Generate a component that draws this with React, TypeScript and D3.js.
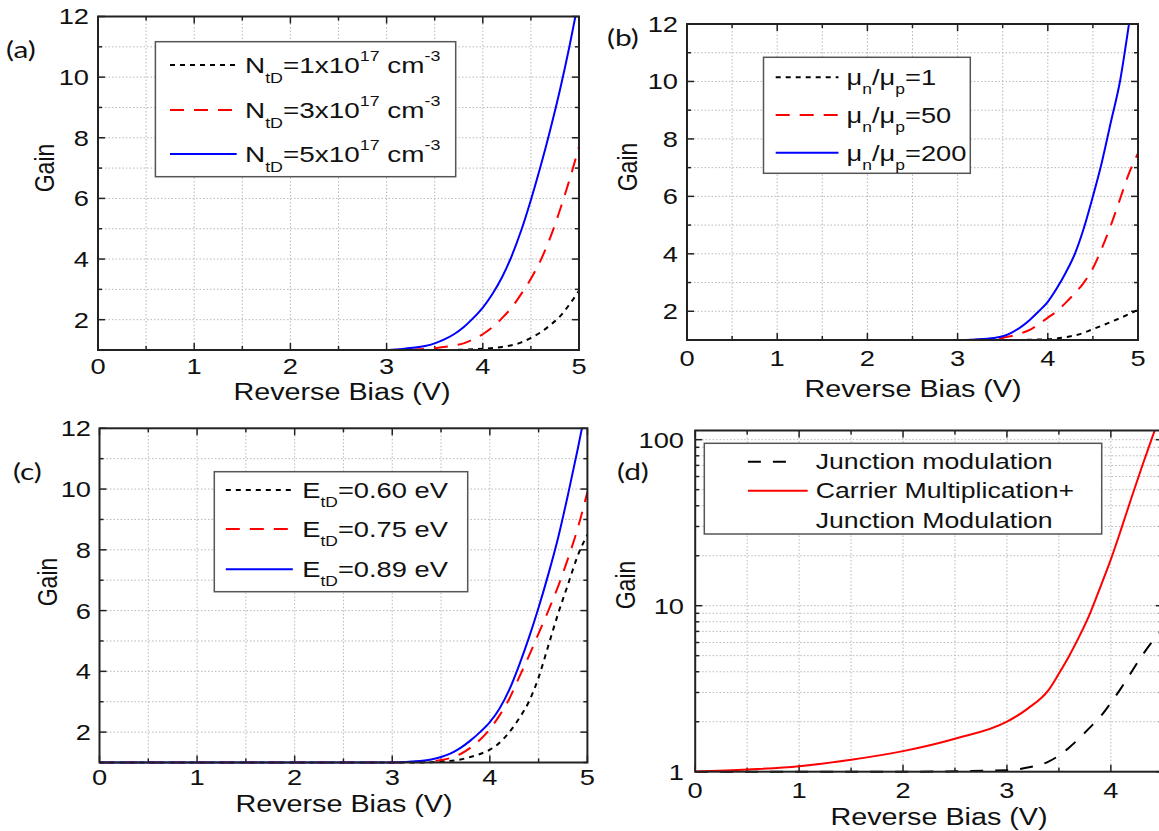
import React from 'react';
import * as d3 from 'd3';

const W = 1159;
const H = 831;
const FONT = '"Liberation Sans", Arial, Helvetica, sans-serif';
const LETTER_FONT = 'Lato, "Open Sans", sans-serif';
const SX = 1.24;

// ---------- Tick labels ----------
const xTickLabels = [0, 1, 2, 3, 4, 5];
const xTickLabelsD = [0, 1, 2, 3, 4];
const yTickLabelsLin = [2, 4, 6, 8, 10, 12];
const yTickLabelsLog = [1, 10, 100];

// ---------- Panel (a): N_tD ----------
const aBlackX = [0, 3.5, 3.8, 4.0, 4.2, 4.4, 4.5, 4.6, 4.7, 4.8, 4.9, 5.0];
const aBlackY = [1, 1.0, 1.01, 1.04, 1.1, 1.25, 1.4, 1.58, 1.82, 2.1, 2.5, 2.95];
const aRedX = [0, 3, 3.3, 3.5, 3.7, 3.8, 3.9, 4.0, 4.1, 4.2, 4.3, 4.4, 4.5, 4.6, 4.7, 4.8, 4.9, 5.0];
const aRedY = [1, 1, 1.02, 1.06, 1.15, 1.22, 1.35, 1.52, 1.75, 2.05, 2.4, 2.85, 3.35, 3.95, 4.7, 5.6, 6.6, 7.7];
const aBlueX = [0, 3, 3.2, 3.4, 3.5, 3.6, 3.7, 3.8, 3.9, 4.0, 4.1, 4.2, 4.3, 4.4, 4.5, 4.6, 4.7, 4.8, 4.9, 5.0];
const aBlueY = [1, 1, 1.05, 1.13, 1.22, 1.35, 1.52, 1.75, 2.05, 2.4, 2.85, 3.4, 4.1, 4.95, 5.95, 7.05, 8.25, 9.55, 11.0, 12.6];

// ---------- Panel (b): mobility ratio ----------
const bBlackX = [0, 3.6, 4.0, 4.2, 4.4, 4.5, 4.6, 4.7, 4.8, 4.9, 5.0];
const bBlackY = [1, 1, 1.03, 1.1, 1.25, 1.38, 1.5, 1.63, 1.76, 1.9, 2.05];
const bRedX = [0, 3, 3.3, 3.5, 3.6, 3.7, 3.8, 3.9, 4.0, 4.1, 4.2, 4.3, 4.4, 4.5, 4.6, 4.7, 4.8, 4.9, 5.0];
const bRedY = [1, 1, 1.02, 1.08, 1.14, 1.23, 1.35, 1.55, 1.78, 2.0, 2.3, 2.63, 3.0, 3.5, 4.2, 5.0, 5.9, 6.8, 7.5];
const bBlueX = [0, 3, 3.2, 3.4, 3.5, 3.6, 3.7, 3.8, 3.9, 4.0, 4.1, 4.2, 4.3, 4.4, 4.5, 4.6, 4.7, 4.8, 4.9, 5.0];
const bBlueY = [1, 1, 1.02, 1.07, 1.13, 1.26, 1.45, 1.7, 2.0, 2.33, 2.8, 3.35, 4.0, 4.9, 6.0, 7.2, 8.6, 10.0, 12.0, 14.2];

// ---------- Panel (c): E_tD ----------
const cBlackX = [0, 3.3, 3.5, 3.7, 3.8, 3.9, 4.0, 4.1, 4.2, 4.3, 4.4, 4.5, 4.6, 4.7, 4.8, 4.9, 5.0];
const cBlackY = [1, 1, 1.03, 1.1, 1.18, 1.28, 1.42, 1.65, 2.0, 2.45, 3.0, 3.8, 4.85, 5.9, 6.85, 7.8, 8.5];
const cRedX = [0, 3, 3.3, 3.5, 3.6, 3.7, 3.8, 3.9, 4.0, 4.1, 4.2, 4.3, 4.4, 4.5, 4.6, 4.7, 4.8, 4.9, 5.0];
const cRedY = [1, 1, 1.02, 1.08, 1.15, 1.28, 1.48, 1.75, 2.1, 2.55, 3.1, 3.8, 4.5, 5.25, 6.0, 6.8, 7.7, 8.7, 9.9];
const cBlueX = [0, 3, 3.2, 3.4, 3.5, 3.6, 3.7, 3.8, 3.9, 4.0, 4.1, 4.2, 4.3, 4.4, 4.5, 4.6, 4.7, 4.8, 4.9, 5.0];
const cBlueY = [1, 1, 1.03, 1.1, 1.18, 1.3, 1.48, 1.72, 2.0, 2.33, 2.78, 3.4, 4.2, 5.1, 6.1, 7.2, 8.4, 9.8, 11.3, 12.9];

// ---------- Panel (d): log scale ----------
const dBlackX = [0, 1, 2, 3.0, 3.2, 3.4, 3.5, 3.6, 3.7, 3.8, 3.9, 4.0, 4.1, 4.2, 4.3, 4.4, 4.5];
const dBlackY = [1, 1, 1, 1.02, 1.06, 1.15, 1.25, 1.4, 1.6, 1.85, 2.15, 2.6, 3.2, 4.0, 5.0, 6.1, 7.2];
const dRedX = [0, 0.5, 1.0, 1.5, 2.0, 2.5, 3.0, 3.2, 3.4, 3.5, 3.6, 3.7, 3.8, 3.9, 4.0, 4.1, 4.2, 4.3, 4.4, 4.5];
const dRedY = [1, 1.03, 1.08, 1.18, 1.33, 1.58, 2.0, 2.4, 3.1, 3.9, 5.0, 6.6, 9.0, 13.0, 19.0, 29, 45, 69, 104, 155];

type Seg = { t: string; s?: 'sub' | 'sup' };
type Series = { x: number[]; y: number[]; color: string; dash?: string; width: number };
type LegendEntry = { color: string; dash?: string; lineEnd?: number; lines: Seg[][] };

const BLACK_DOT = '5,5';
const RED_DASH = '14,10';
const BLUE = '#0000ff';
const RED = '#ff0000';

const labelA: Seg[][] = [1, 3, 5].map((n) => [
  { t: 'N' }, { t: 'tD', s: 'sub' }, { t: `=${n}x10` }, { t: '17', s: 'sup' }, { t: ' cm' }, { t: '-3', s: 'sup' },
]);
const ratiosB = ['1', '50', '200'];
const labelB: Seg[][] = ratiosB.map((r) => [
  { t: 'μ' }, { t: 'n', s: 'sub' }, { t: '/μ' }, { t: 'p', s: 'sub' }, { t: `=${r}` },
]);
const energiesC = ['0.60', '0.75', '0.89'];
const labelC: Seg[][] = energiesC.map((e) => [{ t: 'E' }, { t: 'tD', s: 'sub' }, { t: `=${e} eV` }]);

function Rich({ segs, size }: { segs: Seg[]; size: number }) {
  let cur = 0;
  return (
    <>
      {segs.map((sg, i) => {
        const target = sg.s === 'sub' ? size * 0.42 : sg.s === 'sup' ? -size * 0.52 : 0;
        const dy = target - cur;
        cur = target;
        return (
          <tspan key={i} dy={dy} fontSize={sg.s ? size * 0.64 : size}>
            {sg.t}
          </tspan>
        );
      })}
    </>
  );
}

function SText({ x, y, size, anchor = 'start', sx = SX, rotate = false, family = FONT, dy, children }: any) {
  const tr = `translate(${x},${y}) scale(${sx},1)${rotate ? ' rotate(-90)' : ''}`;
  return (
    <g transform={tr}>
      <text textAnchor={anchor} fontSize={size} fontFamily={family} fill="#111" dy={dy}>
        {children}
      </text>
    </g>
  );
}

type PanelCfg = {
  id: string;
  x0: number; x1: number; yT: number; yB: number;
  xDom: [number, number]; yDom: [number, number]; log?: boolean;
  xTicks: number[]; yTicks: number[];
  series: Series[];
  yLabRight: number; xLabBase: number; titleX: number; titleBase: number;
  gainX: number; gainY: number;
  letter: string; letterX: number; letterY: number;
  legend: { box: [number, number, number, number]; rows: number[]; lx: [number, number]; tx: number; size: number; entries: LegendEntry[] };
};

function Panel({ c }: { c: PanelCfg }) {
  const xs = d3.scaleLinear().domain(c.xDom).range([c.x0, c.x1]);
  const ys: any = (c.log ? d3.scaleLog() : d3.scaleLinear()).domain(c.yDom).range([c.yB, c.yT]);
  const line = d3
    .line<[number, number]>()
    .x((d) => xs(d[0]))
    .y((d) => ys(d[1]))
    .curve(d3.curveMonotoneX);

  const xMinor = d3.range(c.xDom[0], c.xDom[1] + 0.001, 0.5);
  let yGrid: number[];
  if (c.log) {
    yGrid = [];
    [1, 10, 100].forEach((dec) => d3.range(1, 10).forEach((m) => { const v = dec * m; if (v <= c.yDom[1]) yGrid.push(v); }));
  } else {
    yGrid = d3.range(c.yDom[0], c.yDom[1] + 0.001, 1);
  }
  const yMajorSet = new Set(c.yTicks);
  const xMajorSet = new Set(c.xTicks);
  const MAJ = 7;
  const MIN = 4;
  const clipId = `clip-${c.id}`;
  const L = c.legend;

  return (
    <g>
      <defs>
        <clipPath id={clipId}>
          <rect x={c.x0} y={c.yT} width={c.x1 - c.x0} height={c.yB - c.yT + 1.5} />
        </clipPath>
      </defs>
      <rect x={c.x0} y={c.yT} width={c.x1 - c.x0} height={c.yB - c.yT} fill="#fff" />
      {/* grid */}
      {xMinor.filter((v) => v > c.xDom[0] && v < c.xDom[1]).map((v) => (
        <line key={`gx${v}`} x1={xs(v)} x2={xs(v)} y1={c.yT} y2={c.yB} stroke="#b8b8b8" strokeWidth={1} strokeDasharray="1.5,2" />
      ))}
      {yGrid.filter((v) => v > c.yDom[0] && v < c.yDom[1]).map((v) => (
        <line key={`gy${v}`} x1={c.x0} x2={c.x1} y1={ys(v)} y2={ys(v)} stroke="#b8b8b8" strokeWidth={1} strokeDasharray="1.5,2" />
      ))}
      {/* ticks */}
      {xMinor.map((v) => {
        const len = xMajorSet.has(v) ? MAJ : MIN;
        return (
          <g key={`tx${v}`}>
            <line x1={xs(v)} x2={xs(v)} y1={c.yB} y2={c.yB - len} stroke="#222" strokeWidth={1.5} />
            <line x1={xs(v)} x2={xs(v)} y1={c.yT} y2={c.yT + len} stroke="#222" strokeWidth={1.5} />
          </g>
        );
      })}
      {yGrid.map((v) => {
        const len = yMajorSet.has(v) ? MAJ : MIN;
        return (
          <g key={`ty${v}`}>
            <line x1={c.x0} x2={c.x0 + len} y1={ys(v)} y2={ys(v)} stroke="#222" strokeWidth={1.5} />
            <line x1={c.x1} x2={c.x1 - len} y1={ys(v)} y2={ys(v)} stroke="#222" strokeWidth={1.5} />
          </g>
        );
      })}
      {/* series */}
      <g clipPath={`url(#${clipId})`}>
        {c.series.map((s, i) => (
          <path
            key={i}
            d={line(s.x.map((xv, j) => [xv, s.y[j]] as [number, number])) || ''}
            fill="none"
            stroke={s.color}
            strokeWidth={s.width}
            strokeDasharray={s.dash}
          />
        ))}
      </g>
      {/* frame */}
      <rect x={c.x0} y={c.yT} width={c.x1 - c.x0} height={c.yB - c.yT} fill="none" stroke="#222" strokeWidth={2} />
      {/* tick labels */}
      {c.xTicks.map((v) => (
        <SText key={`xl${v}`} x={xs(v)} y={c.xLabBase} size={22} anchor="middle">{String(v)}</SText>
      ))}
      {c.yTicks.map((v) => (
        <SText key={`yl${v}`} x={c.yLabRight} y={ys(v)} size={22} anchor="end" dy="0.36em">{String(v)}</SText>
      ))}
      <SText x={c.titleX} y={c.titleBase} size={23} anchor="middle" sx={1.25}>Reverse Bias (V)</SText>
      <SText x={c.gainX} y={c.gainY} size={23} anchor="middle" rotate dy="0.36em">Gain</SText>
      <SText x={c.letterX} y={c.letterY} size={23} sx={1.3} family={LETTER_FONT}>{c.letter}</SText>
      {/* legend */}
      <rect x={L.box[0]} y={L.box[1]} width={L.box[2] - L.box[0]} height={L.box[3] - L.box[1]} fill="#fff" stroke="#555" strokeWidth={1.5} />
      {L.entries.map((e, i) => (
        <line key={`lg${i}`} x1={L.lx[0]} x2={e.lineEnd ?? L.lx[1]} y1={L.rows[i]} y2={L.rows[i]} stroke={e.color} strokeWidth={2} strokeDasharray={e.dash} />
      ))}
      {(() => {
        const out: any[] = [];
        let r = 0;
        L.entries.forEach((e, i) => {
          e.lines.forEach((segs, k) => {
            out.push(
              <SText key={`lt${i}-${k}`} x={L.tx} y={L.rows[r] + L.size * 0.36} size={L.size}>
                <Rich segs={segs} size={L.size} />
              </SText>
            );
            r++;
          });
        });
        return out;
      })()}
    </g>
  );
}

const panels: PanelCfg[] = [
  {
    id: 'a', x0: 98, x1: 579, yT: 16.5, yB: 350, xDom: [0, 5], yDom: [1, 12],
    xTicks: xTickLabels, yTicks: yTickLabelsLin,
    series: [
      { x: aBlackX, y: aBlackY, color: '#000', dash: BLACK_DOT, width: 2 },
      { x: aRedX, y: aRedY, color: RED, dash: RED_DASH, width: 2 },
      { x: aBlueX, y: aBlueY, color: BLUE, width: 2 },
    ],
    yLabRight: 89, xLabBase: 374, titleX: 342, titleBase: 400,
    gainX: 44, gainY: 168, letter: '(a)', letterX: 6, letterY: 57.5,
    legend: {
      box: [155.4, 41.7, 455.7, 176.7], rows: [65, 110, 154], lx: [170, 236.7], tx: 245, size: 22.5,
      entries: [
        { color: '#000', dash: BLACK_DOT, lines: [labelA[0]] },
        { color: RED, dash: RED_DASH, lines: [labelA[1]] },
        { color: BLUE, lines: [labelA[2]] },
      ],
    },
  },
  {
    id: 'b', x0: 687, x1: 1138, yT: 24, yB: 340, xDom: [0, 5], yDom: [1, 12],
    xTicks: xTickLabels, yTicks: yTickLabelsLin,
    series: [
      { x: bBlackX, y: bBlackY, color: '#000', dash: BLACK_DOT, width: 2 },
      { x: bRedX, y: bRedY, color: RED, dash: RED_DASH, width: 2 },
      { x: bBlueX, y: bBlueY, color: BLUE, width: 2 },
    ],
    yLabRight: 678, xLabBase: 366, titleX: 913, titleBase: 397,
    gainX: 627, gainY: 167, letter: '(b)', letterX: 607, letterY: 45.5,
    legend: {
      box: [763.5, 57.3, 970.3, 173.3], rows: [77.3, 115, 152.7], lx: [775.7, 838.5], tx: 846.6, size: 22,
      entries: [
        { color: '#000', dash: BLACK_DOT, lines: [labelB[0]] },
        { color: RED, dash: RED_DASH, lines: [labelB[1]] },
        { color: BLUE, lines: [labelB[2]] },
      ],
    },
  },
  {
    id: 'c', x0: 99.5, x1: 587.4, yT: 428.3, yB: 762.5, xDom: [0, 5], yDom: [1, 12],
    xTicks: xTickLabels, yTicks: yTickLabelsLin,
    series: [
      { x: cBlackX, y: cBlackY, color: '#000', dash: BLACK_DOT, width: 2 },
      { x: cRedX, y: cRedY, color: RED, dash: RED_DASH, width: 2 },
      { x: cBlueX, y: cBlueY, color: BLUE, width: 2 },
    ],
    yLabRight: 91, xLabBase: 785, titleX: 344, titleBase: 811.5,
    gainX: 47, gainY: 582, letter: '(c)', letterX: 13, letterY: 479.5,
    legend: {
      box: [214.3, 471.7, 467.7, 591.7], rows: [490, 529, 569.3], lx: [225.8, 292.8], tx: 302.3, size: 22,
      entries: [
        { color: '#000', dash: BLACK_DOT, lines: [labelC[0]] },
        { color: RED, dash: RED_DASH, lines: [labelC[1]] },
        { color: BLUE, lines: [labelC[2]] },
      ],
    },
  },
  {
    id: 'd', x0: 695.2, x1: 1162.8, yT: 430.5, yB: 771.7, xDom: [0, 4.5], yDom: [1, 113.6], log: true,
    xTicks: xTickLabelsD, yTicks: yTickLabelsLog,
    series: [
      { x: dBlackX, y: dBlackY, color: '#000', dash: '13,12', width: 2 },
      { x: dRedX, y: dRedY, color: RED, width: 2 },
    ],
    yLabRight: 684, xLabBase: 798, titleX: 939, titleBase: 824.5,
    gainX: 624.5, gainY: 585, letter: '(d)', letterX: 617, letterY: 479.5,
    legend: {
      box: [704.3, 443.3, 1101.7, 534], rows: [461.7, 490.7, 520], lx: [747.9, 807.7], tx: 815.7, size: 21.5,
      entries: [
        { color: '#000', dash: '13,12', lineEnd: 787, lines: [[{ t: 'Junction modulation' }]] },
        { color: RED, lines: [[{ t: 'Carrier Multiplication+' }], [{ t: 'Junction Modulation' }]] },
      ],
    },
  },
];

export default function App() {
  return (
    <svg width={W} height={H} viewBox={`0 0 ${W} ${H}`} style={{ position: 'absolute', left: 0, top: 0, background: '#fff' }}>
      <rect x={0} y={0} width={W} height={H} fill="#fff" />
      {panels.map((p) => (
        <Panel key={p.id} c={p} />
      ))}
    </svg>
  );
}
